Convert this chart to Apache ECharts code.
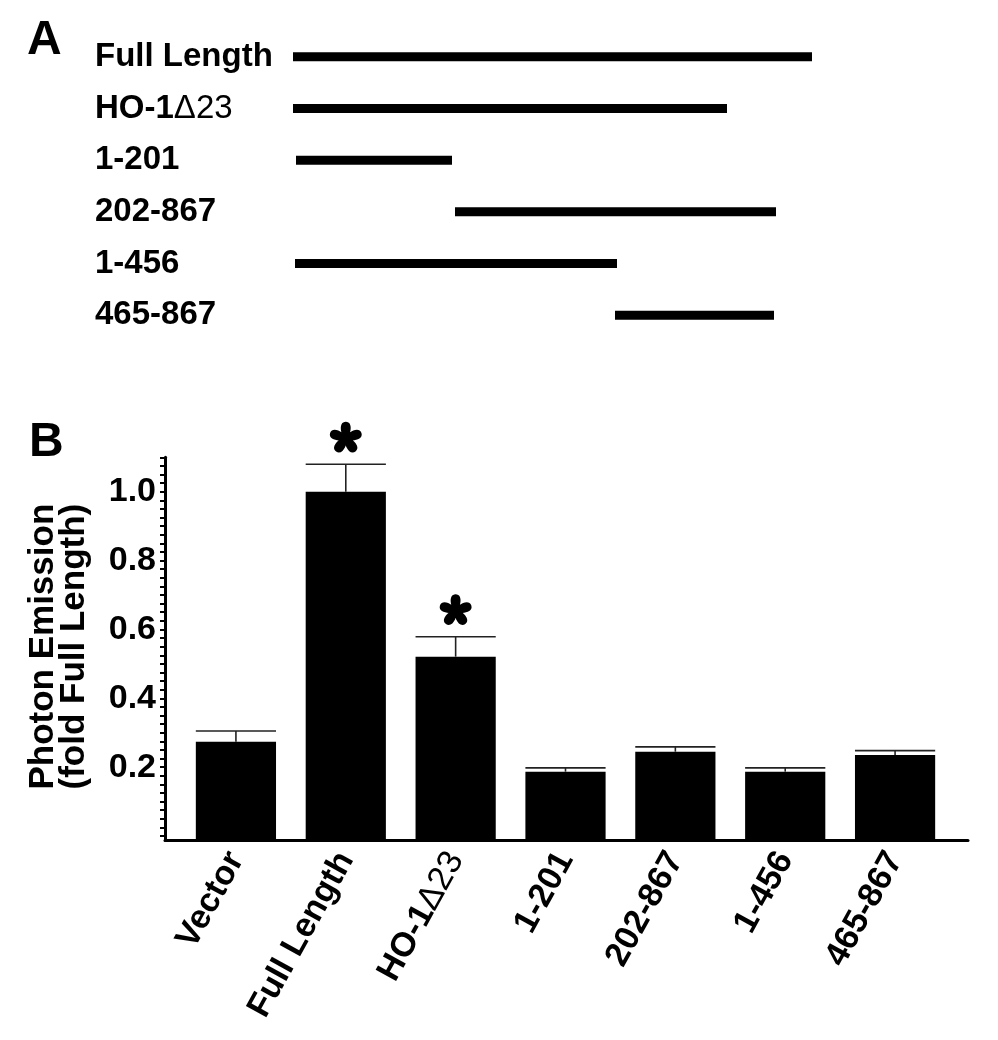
<!DOCTYPE html>
<html>
<head>
<meta charset="utf-8">
<script src="https://cdn.jsdelivr.net/npm/echarts@6/dist/echarts.min.js"></script>
<style>
html,body{margin:0;padding:0;background:#fff;}
#chart{width:998px;height:1040px;}
</style>
</head>
<body>
<div id="chart"></div>
<script>
// ---------- Panel A data: construct map (relative positions) ----------
const constructs = ['Full Length', 'HO-1Δ23', '1-201', '202-867', '1-456', '465-867'];
const segStart = [0, 0, 3, 162, 2, 322];
const segEnd = [519, 434, 159, 483, 324, 481];

// ---------- Panel B data ----------
const groups = ['Vector', 'Full Length', 'HO-1Δ23', '1-201', '202-867', '1-456', '465-867'];
const means = [0.274, 1.0, 0.521, 0.187, 0.245, 0.187, 0.235];
const sems = [0.031, 0.08, 0.058, 0.011, 0.014, 0.011, 0.013];
const starred = [false, true, true, false, false, false, false];
const yTickLabels = ['0.2', '0.4', '0.6', '0.8', '1.0'];

const FONT = '"Liberation Sans", Arial, Helvetica, sans-serif';

function richName(name) {
  const parts = name.split('Δ');
  if (parts.length > 1) return '{b|' + parts[0] + '}{r|Δ' + parts[1] + '}';
  return '{b|' + name + '}';
}
const richA = {
  b: { fontFamily: FONT, fontWeight: 'bold', fontSize: 33, color: '#000' },
  r: { fontFamily: FONT, fontWeight: 'normal', fontSize: 33, color: '#000' }
};
const richB = {
  b: { fontFamily: FONT, fontWeight: 'bold', fontSize: 34, color: '#000' },
  r: { fontFamily: FONT, fontWeight: 'normal', fontSize: 34, color: '#000' }
};

// asterisk path (five teardrop petals)
function asteriskPath(len) {
  const angles = [-90, -18, 54, 126, 198];
  const petal = [[0, 0], [2, -5], [len, -8], [len, 0], [len, 8], [2, 5], [0, 0]];
  let d = '';
  angles.forEach(function (a) {
    const r = a * Math.PI / 180, c = Math.cos(r), s = Math.sin(r);
    const p = petal.map(function (q) {
      return [(q[0] * c - q[1] * s).toFixed(2), (q[0] * s + q[1] * c).toFixed(2)];
    });
    d += 'M' + p[0][0] + ' ' + p[0][1] +
      ' C' + p[1][0] + ' ' + p[1][1] + ' ' + p[2][0] + ' ' + p[2][1] + ' ' + p[3][0] + ' ' + p[3][1] +
      ' C' + p[4][0] + ' ' + p[4][1] + ' ' + p[5][0] + ' ' + p[5][1] + ' ' + p[6][0] + ' ' + p[6][1] + ' Z ';
  });
  return d;
}
const STAR_PATH = asteriskPath(16.5);

const segData = constructs.map(function (c, i) { return [segStart[i], segEnd[i], i]; });
const barData = groups.map(function (g, i) { return [i, means[i], sems[i]]; });
const starData = [];
groups.forEach(function (g, i) { if (starred[i]) starData.push([i, means[i] + sems[i]]); });

const chart = echarts.init(document.getElementById('chart'), null, { renderer: 'canvas' });

const option = {
  backgroundColor: '#fff',
  animation: false,
  title: [
    { text: 'A', left: 22, top: 12, textStyle: { fontFamily: FONT, fontWeight: 'bold', fontSize: 48, color: '#000' } },
    { text: 'B', left: 24, top: 414, textStyle: { fontFamily: FONT, fontWeight: 'bold', fontSize: 48, color: '#000' } }
  ],
  grid: [
    { left: 293, top: 31, width: 600, height: 310 },                 // panel A
    { left: 165, right: 30, top: 457.3, bottom: 204 },              // panel B ticks/labels
    { left: 165, right: 30, top: 457.3, bottom: 199.5 },            // panel B axis lines
    { left: 181, right: 48, top: 457.3, bottom: 199.5 }             // panel B bars
  ],
  xAxis: [
    { gridIndex: 0, type: 'value', min: 0, max: 600, show: false },
    { gridIndex: 1, type: 'value', min: 0, max: 1, show: false },
    { gridIndex: 2, type: 'value', min: 0, max: 1,
      axisLine: { show: true, onZero: false, lineStyle: { color: '#000', width: 3 } },
      axisTick: { show: false }, axisLabel: { show: false }, splitLine: { show: false } },
    { gridIndex: 3, type: 'category', data: groups,
      axisLine: { show: false }, axisTick: { show: false }, splitLine: { show: false },
      axisLabel: { interval: 0, rotate: 61, margin: 14, formatter: richName, rich: richB } }
  ],
  yAxis: [
    { gridIndex: 0, type: 'category', data: constructs, inverse: true,
      axisLine: { show: false }, axisTick: { show: false }, splitLine: { show: false },
      axisLabel: { align: 'left', margin: 198, formatter: richName, rich: richA } },
    { gridIndex: 1, type: 'value', min: 0, max: 1.1, interval: 0.1,
      name: 'Photon Emission\n(fold Full Length)', nameLocation: 'middle', nameGap: 75,
      nameTextStyle: { fontFamily: FONT, fontWeight: 'bold', fontSize: 35, lineHeight: 31, color: '#000' },
      axisLine: { show: false },
      axisTick: { show: true, length: 5, lineStyle: { color: '#000', width: 2 } },
      minorTick: { show: true, splitNumber: 4, length: 5, lineStyle: { color: '#000', width: 2 } },
      splitLine: { show: false },
      axisLabel: {
        margin: 9, fontFamily: FONT, fontWeight: 'bold', fontSize: 34, color: '#000',
        formatter: function (v) { const s = v.toFixed(1); return yTickLabels.indexOf(s) >= 0 ? s : ''; }
      } },
    { gridIndex: 2, type: 'value', min: -0.013, max: 1.1,
      axisLine: { show: true, lineStyle: { color: '#000', width: 3 } },
      axisTick: { show: false }, axisLabel: { show: false }, splitLine: { show: false } },
    { gridIndex: 3, type: 'value', min: -0.013, max: 1.1, show: false }
  ],
  series: [
    {
      type: 'custom', xAxisIndex: 0, yAxisIndex: 0, data: segData,
      renderItem: function (params, api) {
        const a = api.coord([api.value(0), api.value(2)]);
        const b = api.coord([api.value(1), api.value(2)]);
        return { type: 'rect', shape: { x: a[0], y: a[1] - 4.5, width: b[0] - a[0], height: 9 },
          style: { fill: '#000' } };
      }
    },
    {
      type: 'custom', xAxisIndex: 3, yAxisIndex: 3, data: barData,
      renderItem: function (params, api) {
        const top = api.coord([api.value(0), api.value(1)]);
        const err = api.coord([api.value(0), api.value(1) + api.value(2)]);
        const bottom = params.coordSys.y + params.coordSys.height;
        const w = api.size([1, 0])[0] * 0.73;
        return { type: 'group', children: [
          { type: 'line', shape: { x1: top[0], y1: top[1], x2: err[0], y2: err[1] },
            style: { stroke: '#222', lineWidth: 1.6 } },
          { type: 'line', shape: { x1: top[0] - w / 2, y1: err[1], x2: top[0] + w / 2, y2: err[1] },
            style: { stroke: '#222', lineWidth: 1.6 } },
          { type: 'rect', shape: { x: top[0] - w / 2, y: top[1], width: w, height: bottom - top[1] },
            style: { fill: '#000' } }
        ] };
      }
    },
    {
      type: 'custom', xAxisIndex: 3, yAxisIndex: 3, data: starData,
      renderItem: function (params, api) {
        const p = api.coord([api.value(0), api.value(1)]);
        return { type: 'path', x: p[0], y: p[1] - 26,
          shape: { pathData: STAR_PATH }, style: { fill: '#000' } };
      }
    }
  ]
};
chart.setOption(option);
</script>
</body>
</html>
